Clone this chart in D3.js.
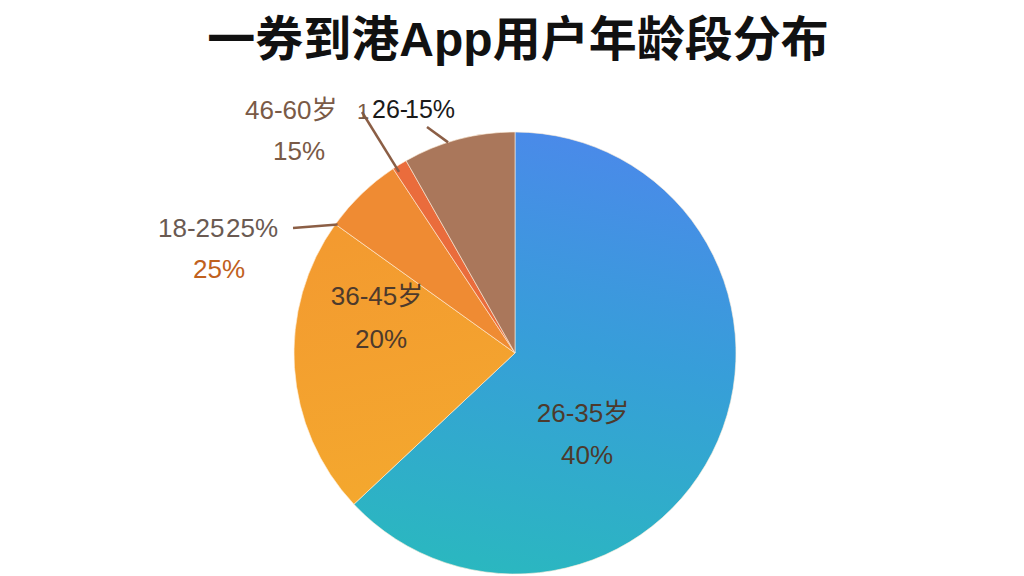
<!DOCTYPE html>
<html><head><meta charset="utf-8">
<script src="https://cdn.jsdelivr.net/npm/d3@7"></script>
<style>
html,body{margin:0;padding:0;background:#fff;}
text{font-family:"Liberation Sans","Noto Sans CJK SC",Arial,sans-serif;}
</style></head>
<body>
<svg id="c" width="1024" height="576"></svg>
<script>
// ---- data ----
const categories = ["26-35岁", "36-45岁", "18-25岁", "26-岁", "46-60岁"];
const values = [63.0, 21.9, 5.8, 1.1, 8.2];
const labelPercents = ["40%", "20%", "25%", "15%", "15%"];
const title = "一券到港App用户年龄段分布";

// ---- layout ----
const W = 1024, H = 576, cx = 515, cy = 353, R = 221;
const svg = d3.select("#c");
const defs = svg.append("defs");

const gBlue = defs.append("linearGradient").attr("id","gBlue").attr("gradientUnits","userSpaceOnUse")
  .attr("x1",30).attr("y1",-R).attr("x2",-60).attr("y2",R);
[[0,"#4a8ae9"],[0.45,"#379ed9"],[1,"#2ab8bf"]].forEach(s=>gBlue.append("stop").attr("offset",s[0]).attr("stop-color",s[1]));
const gOrange = defs.append("linearGradient").attr("id","gOrange").attr("gradientUnits","userSpaceOnUse")
  .attr("x1",-180).attr("y1",-120).attr("x2",-120).attr("y2",150);
[[0,"#f39a30"],[1,"#f4a82e"]].forEach(s=>gOrange.append("stop").attr("offset",s[0]).attr("stop-color",s[1]));

const fills = ["url(#gBlue)","url(#gOrange)","#ef8b33","#ea6c3c","#aa775b"];

svg.append("text").attr("x",518).attr("y",56).attr("text-anchor","middle")
  .attr("font-size",48).attr("font-weight","bold").attr("fill","#111").text(title);

const pie = d3.pie().sort(null).value(d=>d)(values);
const arc = d3.arc().innerRadius(0).outerRadius(R);
const g = svg.append("g").attr("transform",`translate(${cx},${cy})`);
g.selectAll("path").data(pie).join("path")
  .attr("d",arc).attr("fill",(d,i)=>fills[i])
  .attr("stroke","rgba(255,240,220,0.6)").attr("stroke-width",1);

// leader lines
function pt(angle, r){ return [Math.sin(angle)*r, -Math.cos(angle)*r]; }
const lineColor = "#8b5e45";
const leaders = [
  {a: pie[2].startAngle + 0.005, r: R-2, to:[293-cx, 228-cy]},
  {a: (pie[3].startAngle+pie[3].endAngle)/2 - 0.02, r: R-6, to:[362-cx, 112-cy]},
  {a: (pie[4].startAngle+pie[4].endAngle)/2 - 0.05, r: R, to:[427-cx, 127-cy]}
];
leaders.forEach(l=>{
  const p = pt(l.a,l.r);
  g.append("line").attr("x1",p[0]).attr("y1",p[1]).attr("x2",l.to[0]).attr("y2",l.to[1])
    .attr("stroke",lineColor).attr("stroke-width",2.5);
});

// inside labels
const inColor = "#4d3a2c";
const inside = [
  {i:0, x:583, y1:422, y2:464},
  {i:1, x:377, y1:305, y2:348}
];
inside.forEach(o=>{
  svg.append("text").attr("x",o.x).attr("y",o.y1).attr("text-anchor","middle").attr("font-size",26).attr("fill",inColor).text(categories[o.i]);
  svg.append("text").attr("x",o.x+4).attr("y",o.y2).attr("text-anchor","middle").attr("font-size",26).attr("fill",inColor).text(labelPercents[o.i]);
});

// outside labels (overlapping as in the source)
svg.append("text").attr("x",245).attr("y",119).attr("font-size",26).attr("fill","#7a5a46").text(categories[4]);
svg.append("text").attr("x",273).attr("y",160).attr("font-size",26).attr("fill","#7a5a46").text(labelPercents[4]);
svg.append("text").attr("x",357).attr("y",119).attr("font-size",22).attr("fill","#7a5a46").text("1");
svg.append("text").attr("x",372).attr("y",118).attr("font-size",25).attr("fill","#1a1a1a").text("26-");
svg.append("text").attr("x",405).attr("y",118).attr("font-size",25).attr("fill","#1a1a1a").text(labelPercents[3]);

svg.append("text").attr("x",158).attr("y",237).attr("font-size",26).attr("fill","#6a5a52").text("18-25");
svg.append("text").attr("x",226).attr("y",237).attr("font-size",26).attr("fill","#6a5a52").text(labelPercents[2]);
svg.append("text").attr("x",193).attr("y",278).attr("font-size",26).attr("fill","#c0611d").text(labelPercents[2]);
</script>
</body></html>
